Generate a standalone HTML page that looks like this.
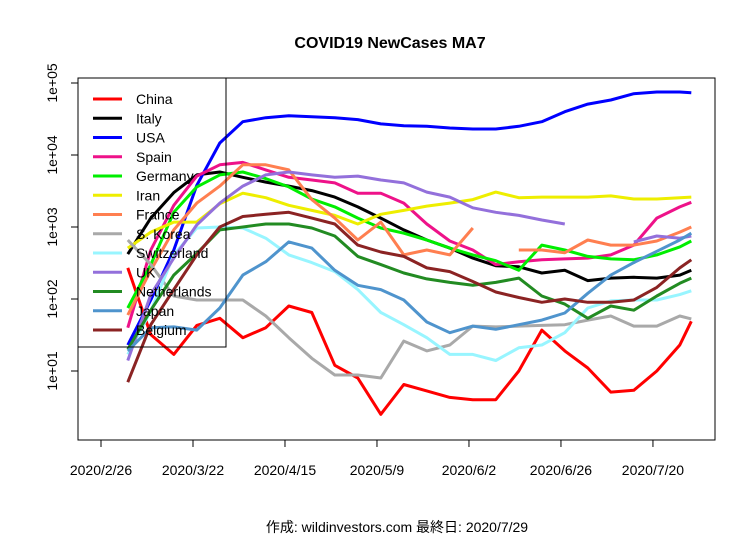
<!DOCTYPE html>
<html><head><meta charset="utf-8"><style>
body{margin:0;background:#fff;}
svg text{font-family:"Liberation Sans","Noto Sans CJK JP",sans-serif;}
</style></head><body>
<svg id="chart" width="756" height="540" xmlns="http://www.w3.org/2000/svg">
<text x="390" y="48" font-size="16" font-weight="bold" text-anchor="middle">COVID19 NewCases MA7</text>
<text x="397" y="532" font-size="14" text-anchor="middle">作成: wildinvestors.com 最終日: 2020/7/29</text>
<g id="series"></g>
<rect x="78" y="78" width="637" height="362" fill="none" stroke="#000" stroke-width="1"/>
<g id="axes"></g>
<g id="legend"></g>
</svg>
<script>
const days=[7,13,19,25,31,37,43,49,55,61,67,73,79,85,91,97,103,109,115,121,127,133,139,145,151,154];
const xTickDays=[0,24,48,72,96,120,144];
const xTickLabels=["2020/2/26","2020/3/22","2020/4/15","2020/5/9","2020/6/2","2020/6/26","2020/7/20"];
const yTicks=[10,100,1000,10000,100000];
const yTickLabels=["1e+01","1e+02","1e+03","1e+04","1e+05"];
const names=["China","Italy","USA","Spain","Germany","Iran","France","S. Korea","Switzerland","UK","Netherlands","Japan","Belgium"];
const colors=["#ff0000","#000000","#0000ff","#ee1289","#00ee00","#eeee00","#ff7f50","#a9a9a9","#98f5ff","#9370db","#228b22","#4f94cd","#8b2323"];
const china=[270,32,17,43,54,29,40,80,65,12,8,2.5,6.5,5.3,4.3,4,4,10,37,19,11,5.1,5.4,10,23,49];
const italy=[420,1330,3000,5300,5800,4900,4200,3700,3200,2600,1900,1330,910,660,510,370,290,280,230,250,180,195,200,195,215,250];
const usa=[23,97,480,3800,14700,29000,33000,35000,34000,33000,31000,27000,25500,25000,23700,23000,23000,25000,29000,40000,51000,58000,71000,75000,75000,73000];
const spain=[40,480,2000,5100,7300,7900,6200,4900,4500,4100,2950,2950,2150,1100,640,480,300,330,350,360,370,410,560,1330,1900,2200];
const germany=[75,300,1600,3600,5300,5800,4700,3600,2450,1900,1330,970,820,660,510,410,340,250,560,480,390,360,350,410,530,640];
const iran=[510,850,1170,1170,2100,2950,2550,2000,1700,1450,1100,1500,1700,1950,2150,2400,3050,2550,2600,2600,2600,2700,2450,2450,2550,2600];
const france=[60,250,910,2150,3700,7300,7300,6200,2400,1330,660,1170,410,480,410,970,null,480,480,440,660,560,560,640,850,1000];
const skorea=[660,300,110,97,97,97,58,29,15,8.8,8.8,8,26,19,23,42,41,42,43,44,51,58,42,42,58,53];
const switzerland=[17,68,410,970,1000,970,700,410,320,240,135,65,44,29,17,17,14,21,23,34,75,94,97,97,115,130];
const uk=[14,115,370,1070,2150,3700,5300,5800,5300,4900,5100,4500,4100,3050,2600,1850,1600,1450,1250,1100,null,null,620,750,700,750];
const netherlands=[20,70,215,430,910,1000,1100,1100,970,750,390,300,230,190,170,155,170,195,110,85,54,80,70,110,165,195];
const japan=[19,40,41,37,75,215,330,620,510,250,155,135,97,48,34,42,38,44,51,64,120,215,320,460,660,820];
const belgium=[7,44,135,410,1000,1400,1500,1600,1330,1100,560,450,390,270,240,175,125,105,90,100,90,90,97,145,270,350];
const seriesList=[china,italy,usa,spain,germany,iran,france,skorea,switzerland,uk,netherlands,japan,belgium];

const NS="http://www.w3.org/2000/svg";
function xScale(d){return 101+d*3.833;}
function yScale(v){return 443-72*Math.log10(v);}
function mk(tag,attrs,parent){const e=document.createElementNS(NS,tag);for(const k in attrs)e.setAttribute(k,attrs[k]);parent.appendChild(e);return e;}

const sg=document.getElementById('series');
seriesList.forEach((vals,si)=>{
  let d="",pen=false;
  vals.forEach((v,i)=>{
    if(v===null){pen=false;return;}
    d+=(pen?"L":"M")+xScale(days[i]).toFixed(1)+","+yScale(v).toFixed(1);
    pen=true;
  });
  const p=mk('path',{d:d,fill:"none",stroke:colors[si],"stroke-width":3,"stroke-linejoin":"round"},sg);
  
  
});

const ax=document.getElementById('axes');
xTickDays.forEach((d,i)=>{
  const x=xScale(d);
  const t=mk('line',{x1:x,x2:x,y1:440,y2:447,stroke:"#000"},ax);
  
  
  const l=mk('text',{x:x,y:475,"font-size":14,"text-anchor":"middle"},ax);
  l.textContent=xTickLabels[i];
  
  
});
yTicks.forEach((v,i)=>{
  const y=yScale(v);
  const t=mk('line',{x1:71,x2:78,y1:y,y2:y,stroke:"#000"},ax);
  
  
  const l=mk('text',{x:0,y:0,"font-size":14,"text-anchor":"middle",transform:"translate(57,"+y+") rotate(-90)"},ax);
  l.textContent=yTickLabels[i];
  
  
});

const lg=document.getElementById('legend');
const box=mk('rect',{x:78,y:78,width:148,height:269,fill:"none",stroke:"#000"},lg);


names.forEach((n,i)=>{
  const y=99+i*19.25;
  const ln=mk('line',{x1:93,x2:122,y1:y,y2:y,stroke:colors[i],"stroke-width":3},lg);
  
  
  const tx=mk('text',{x:136,y:y+5,"font-size":14},lg);
  tx.textContent=n;
  
  
});
</script>
</body></html>
